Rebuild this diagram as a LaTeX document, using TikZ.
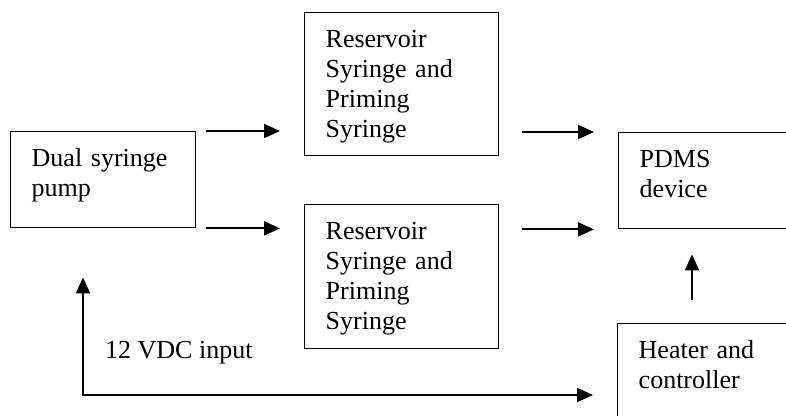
\documentclass[tikz,border=0pt]{standalone}
\usepackage{fontspec}
\setmainfont{Liberation Serif}
\usetikzlibrary{arrows.meta}

\begin{document}
\begin{tikzpicture}[x=1pt,y=-1pt,font=\fontsize{26}{30}\selectfont]
\tikzstyle{box}=[rectangle, draw=black, line width=1.4pt, anchor=north west, align=left, inner xsep=21pt, inner ysep=17pt, text height=18pt]
\tikzstyle{connect}=[-{Triangle[length=16pt,width=14pt]}, line width=2pt]
\tikzstyle{both}=[{Triangle[length=16pt,width=14pt]}-{Triangle[length=16pt,width=14pt]}, line width=2pt]
\useasboundingbox (0,0) rectangle (786,415);
\node[box, text width=143pt, text depth=44pt] (pump) at (10,131) {Dual syringe\\pump};
\node[box, text width=152pt, text depth=91pt] (res1) at (304,12) {Reservoir\\Syringe and\\Priming\\Syringe};
\node[box, text width=152pt, text depth=92pt] (res2) at (304,204) {Reservoir\\Syringe and\\Priming\\Syringe};
\node[box, text width=200pt, text depth=44pt] (pdms) at (618,132) {PDMS\\device};
\node[box, text width=200pt, text depth=100pt] (heater) at (617,323) {Heater and\\controller};
\node[anchor=base west, inner sep=0pt] (vdc) at (105,358) {12 VDC input};
\coordinate (corner) at (83,395);
% flow
\draw[connect, shorten <=10pt, shorten >=24pt] (pump.north east) -- (pump.north east -| res1.west);
\draw[connect, shorten <=10pt, shorten >=24pt] (pump.south east) -- (pump.south east -| res2.west);
\draw[connect, shorten <=23pt, shorten >=24pt] (res1.east |- pdms.north west) -- (pdms.north west);
\draw[connect, shorten <=23pt, shorten >=24pt] (res2.east |- pdms.south west) -- (pdms.south west);
\draw[connect, shorten <=23pt, shorten >=25pt] ([xshift=75pt]heater.north west) -- ([xshift=75pt]heater.north west |- pdms.south);
% power
\draw[both, shorten <=49pt, shorten >=24pt] (corner |- pump.south) -- (corner) -- (corner -| heater.west);
\end{tikzpicture}
\end{document}
